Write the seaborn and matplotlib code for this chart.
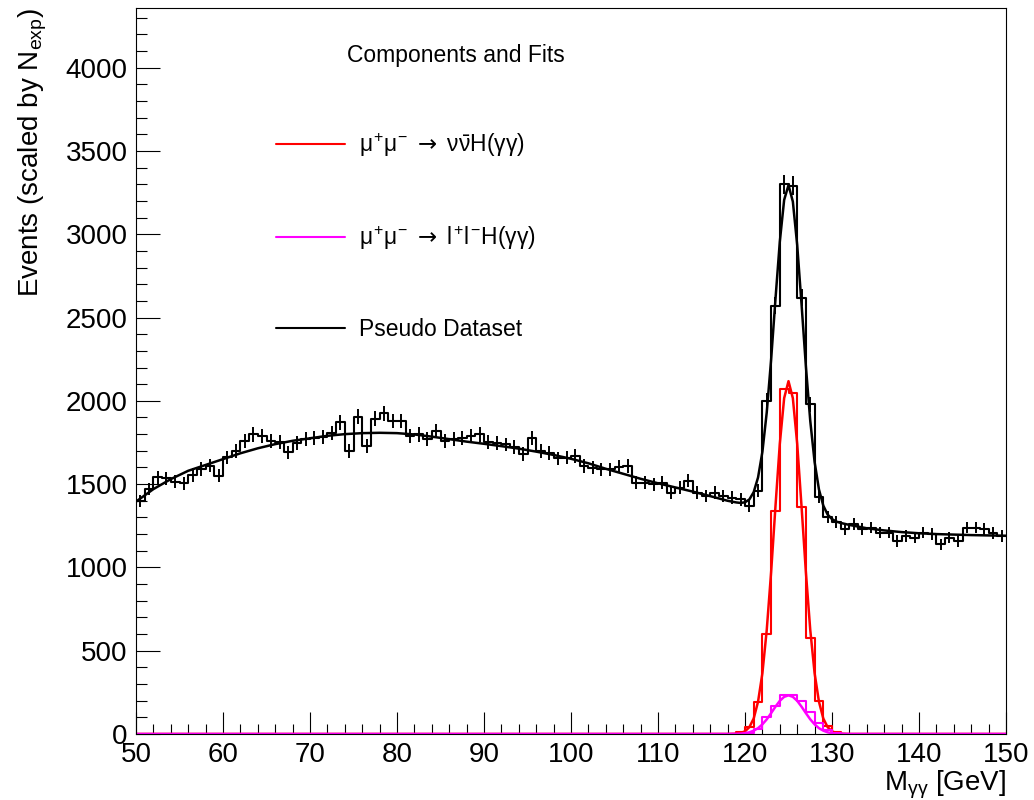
import numpy as np
import pandas as pd
import matplotlib
matplotlib.use("Agg")
import matplotlib.pyplot as plt
from matplotlib.lines import Line2D
from matplotlib.ticker import MultipleLocator
import seaborn as sns

# ---------------- data ----------------
bin_edges = list(range(50, 151))          # 1 GeV bins, 50..150

# pseudo dataset, one value per bin (50-51 ... 149-150)
data_counts = [
    1400, 1470, 1540, 1535, 1515, 1505, 1555, 1590, 1610, 1550,   # 50-59
    1660, 1700, 1760, 1798, 1790, 1760, 1750, 1690, 1745, 1768,   # 60-69
    1778, 1780, 1808, 1870, 1700, 1905, 1728, 1893, 1924, 1878,   # 70-79
    1878, 1790, 1798, 1768, 1818, 1758, 1768, 1778, 1788, 1798,   # 80-89
    1752, 1745, 1738, 1725, 1679, 1778, 1698, 1685, 1655, 1659,   # 90-99
    1669, 1609, 1599, 1589, 1589, 1605, 1609, 1509, 1509, 1499,   # 100-109
    1509, 1449, 1479, 1519, 1449, 1429, 1449, 1429, 1419, 1409,   # 110-119
    1369, 1460, 2000, 2570, 3300, 3290, 2620, 1980, 1425, 1300,   # 120-129
    1273, 1229, 1259, 1229, 1239, 1209, 1209, 1159, 1189, 1179,   # 130-139
    1209, 1199, 1139, 1179, 1159, 1239, 1239, 1229, 1205, 1190,   # 140-149
]

# signal histograms (non-zero bins only, starting at bin 118-119)
sig_first_bin = 118
nunu_counts = [2, 10, 40, 190, 600, 1340, 2070, 2045, 1360, 575, 200, 50, 10]
llH_counts = [1, 3, 8, 30, 100, 170, 232, 235, 200, 130, 65, 25, 8]

# fitted curves
fit_black_x = [50, 52, 54, 56, 58, 60, 62, 64, 66, 68, 70, 72, 74, 76, 78, 80, 82, 84,
               86, 88, 90, 92, 94, 96, 98, 100, 102, 104, 106, 108, 110, 112, 114, 116,
               118, 119, 119.5, 120, 120.5, 121, 121.5, 122, 122.5, 123, 123.5, 124,
               124.5, 125, 125.5, 126, 126.5, 127, 127.5, 128, 128.5, 129, 129.5, 130,
               130.5, 131, 132, 134, 136, 138, 140, 142, 144, 146, 148, 150]
fit_black_y = [1395, 1470, 1530, 1580, 1615, 1650, 1685, 1715, 1740, 1760, 1775, 1790,
               1800, 1806, 1808, 1806, 1798, 1785, 1770, 1755, 1742, 1728, 1713, 1695,
               1675, 1652, 1625, 1592, 1562, 1532, 1505, 1480, 1455, 1428, 1400, 1390,
               1387, 1391, 1408, 1452, 1540, 1694, 1931, 2246, 2609, 2955, 3206, 3295,
               3196, 2935, 2579, 2206, 1880, 1633, 1468, 1371, 1317, 1290, 1275, 1267,
               1255, 1235, 1222, 1212, 1205, 1200, 1197, 1194, 1192, 1190]

fit_sig_x = [50, 118, 119, 119.5, 120, 120.5, 121, 121.5, 122, 122.5, 123, 123.5, 124,
             124.5, 125, 125.5, 126, 126.5, 127, 127.5, 128, 128.5, 129, 129.5, 130,
             130.5, 131, 132, 150]
fit_nunu_y = [0, 0, 2, 6, 16, 41, 93, 194, 365, 625, 970, 1365, 1742, 2016, 2118, 2016,
              1742, 1365, 970, 625, 365, 194, 93, 41, 16, 6, 2, 0, 0]
fit_llH_y = [0, 0, 1, 2, 5, 10, 20, 35, 58, 88, 125, 164, 199, 223, 232, 223, 199, 164,
             125, 88, 58, 35, 20, 10, 5, 2, 1, 0, 0]

y_ticks = [0, 500, 1000, 1500, 2000, 2500, 3000, 3500, 4000]
x_ticks = [50, 60, 70, 80, 90, 100, 110, 120, 130, 140, 150]

label_nunu = r"$\mu^{+}\mu^{-}\ \mathsf{\rightarrow}\ \nu\bar{\nu}H(\gamma\gamma)$"
label_llH = r"$\mu^{+}\mu^{-}\ \mathsf{\rightarrow}\ l^{+}l^{-}H(\gamma\gamma)$"
label_data = "Pseudo Dataset"
header = "Components and Fits"

# ---------------- style ----------------
sns.set_theme(style="ticks")
plt.rcParams["font.family"] = ["Liberation Sans", "DejaVu Sans"]
plt.rcParams["mathtext.fontset"] = "custom"
plt.rcParams["mathtext.rm"] = "Liberation Sans"
plt.rcParams["mathtext.it"] = "Liberation Sans"
plt.rcParams["mathtext.bf"] = "Liberation Sans:bold"
plt.rcParams["mathtext.sf"] = "DejaVu Sans"
for key in ["text.color", "axes.labelcolor", "xtick.color", "ytick.color",
            "axes.edgecolor"]:
    plt.rcParams[key] = "black"

RED = "#ff0000"
MAG = "#ff00ff"

fig = plt.figure(figsize=(10.34, 8.0), dpi=100)
ax = fig.add_axes([136 / 1034, 66 / 800, 870 / 1034, 726 / 800])

centers = [e + 0.5 for e in bin_edges[:-1]]
n_bins = len(centers)
nunu_full = [0.0] * n_bins
llH_full = [0.0] * n_bins
i0 = sig_first_bin - bin_edges[0]
for j, v in enumerate(nunu_counts):
    nunu_full[i0 + j] = float(v)
for j, v in enumerate(llH_counts):
    llH_full[i0 + j] = float(v)

df = pd.DataFrame({"m": centers, "data": [float(v) for v in data_counts],
                   "nunu": nunu_full, "llH": llH_full})


def step_hist(col, color):
    sns.histplot(data=df, x="m", weights=col, bins=bin_edges, element="step",
                 fill=False, color=color, linewidth=1.5, ax=ax)


# pseudo dataset histogram + errors
step_hist("data", "black")
ax.errorbar(df["m"], df["data"], yerr=np.sqrt(df["data"]), fmt="none",
            ecolor="black", elinewidth=1.4, capsize=0)
sns.lineplot(x=fit_black_x, y=fit_black_y, color="black", linewidth=1.8, ax=ax,
             estimator=None)

# nu nu H histogram + fit
step_hist("nunu", RED)
sns.lineplot(x=fit_sig_x, y=fit_nunu_y, color=RED, linewidth=1.8, ax=ax, estimator=None)

# l l H histogram + fit
step_hist("llH", MAG)
sns.lineplot(x=fit_sig_x, y=fit_llH_y, color=MAG, linewidth=1.8, ax=ax, estimator=None)

# ---------------- axes ----------------
ax.set_xlim(50, 150)
ax.set_ylim(0, 4358)
ax.set_xticks(x_ticks)
ax.set_yticks(y_ticks)
ax.xaxis.set_minor_locator(MultipleLocator(2))
ax.yaxis.set_minor_locator(MultipleLocator(100))
ax.tick_params(axis="both", which="both", direction="in", top=False, right=False,
               colors="black", labelcolor="black", width=0.8)
ax.tick_params(axis="y", which="major", length=17, labelsize=20, pad=6)
ax.tick_params(axis="y", which="minor", length=8)
ax.tick_params(axis="x", which="major", length=16, labelsize=20, pad=6)
ax.tick_params(axis="x", which="minor", length=7)
for s in ax.spines.values():
    s.set_visible(True)
    s.set_color("black")
    s.set_linewidth(0.8)

ax.set_xlabel(r"M$_{\gamma\gamma}$ [GeV]", fontsize=20, loc="right", labelpad=0,
              color="black")
ax.set_ylabel(r"Events (scaled by N$_{exp}$)", fontsize=20, loc="top", labelpad=12,
              color="black")
ax.grid(False)

# ---------------- legend ----------------
ax.text(0.368, 0.935, header, transform=ax.transAxes, ha="center", va="center",
        fontsize=16.5, color="black")
handles = [Line2D([], [], color=RED, lw=1.5),
           Line2D([], [], color=MAG, lw=1.5),
           Line2D([], [], color="black", lw=1.5)]
leg = ax.legend(handles, [label_nunu, label_llH, label_data], loc="center left",
                bbox_to_anchor=(0.161, 0.686), frameon=False, fontsize=16.5,
                labelspacing=2.85, handlelength=3.0, handletextpad=0.6, borderpad=0,
                borderaxespad=0)
for t in leg.get_texts():
    t.set_color("black")

fig.savefig("out.png", dpi=100)
